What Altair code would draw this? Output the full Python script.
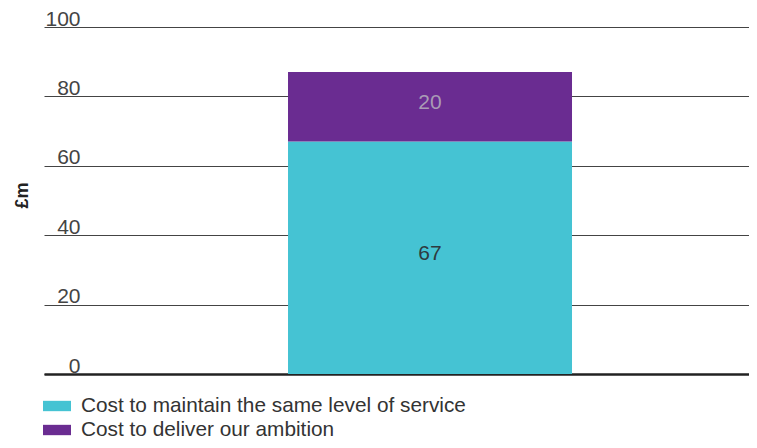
import altair as alt
import pandas as pd

categories = ["Cost to maintain the same level of service", "Cost to deliver our ambition"]
values = [67, 20]
bar_group = ["Total"]
y_ticks = [0, 20, 40, 60, 80, 100]

COLORS = ["#45C3D3", "#6A2C91"]
FONT = "Liberation Sans"

df = pd.DataFrame({
    "group": bar_group * len(categories),
    "category": categories,
    "value": values,
    "order": list(range(len(categories))),
})

base = alt.Chart(df).transform_stack(
    stack="value", groupby=["group"], as_=["v0", "v1"], sort=[alt.SortField("order")]
).transform_calculate(mid="(datum.v0 + datum.v1) / 2")

xscale = alt.Scale(paddingInner=0, paddingOuter=0.7412, align=0.5796, round=False)

x_enc = alt.X("group:N", title=None, scale=xscale,
              axis=alt.Axis(labels=False, ticks=False, domain=True, domainColor="#222222",
                            domainWidth=2.5, grid=False))

bars = base.mark_bar().encode(
    x=x_enc,
    y=alt.Y("v0:Q", title="£m",
            scale=alt.Scale(domain=[0, 100], nice=False),
            axis=alt.Axis(values=y_ticks, domain=False, ticks=False, grid=True,
                          gridColor="#444444", gridWidth=1, labelAlign="right",
                          labelBaseline="alphabetic", labelPadding=-36, labelOffset=-2,
                          labelFont=FONT, labelFontSize=21, labelColor="#444444",
                          titleFont=FONT, titleFontSize=18, titleFontWeight="bold",
                          titleColor="#222222", titleX=-22, titleY=168, titleAngle=270,
                          titleAlign="center", titleBaseline="middle")),
    y2="v1:Q",
    color=alt.Color("category:N", scale=alt.Scale(domain=categories, range=COLORS),
                    sort=categories,
                    legend=alt.Legend(title=None, orient="none", legendX=-1, legendY=365,
                                      direction="vertical",
                                      symbolType="M-1,-0.37L1,-0.37L1,0.37L-1,0.37Z",
                                      symbolSize=784, symbolStrokeWidth=0, symbolOpacity=1,
                                      labelFont=FONT, labelFontSize=20.8, labelColor="#333333",
                                      labelOffset=10, rowPadding=-0.5, labelLimit=700)),
    order=alt.Order("order:Q"),
)

labels = base.mark_text(font=FONT, fontSize=21, dy=-4).encode(
    x=alt.X("group:N", scale=xscale),
    y=alt.Y("mid:Q"),
    text=alt.Text("value:Q"),
    color=alt.condition("datum.order == 1", alt.value("#A99BB5"), alt.value("#2E3A40")),
)

chart = alt.layer(bars, labels).properties(
    width=705, height=347,
    padding={"left": 36, "top": 19, "right": 0, "bottom": 66},
    autosize=alt.AutoSizeParams(type="none"),
).configure_view(stroke=None)

chart.save("out.html", embed_options={"renderer": "svg", "actions": False})
